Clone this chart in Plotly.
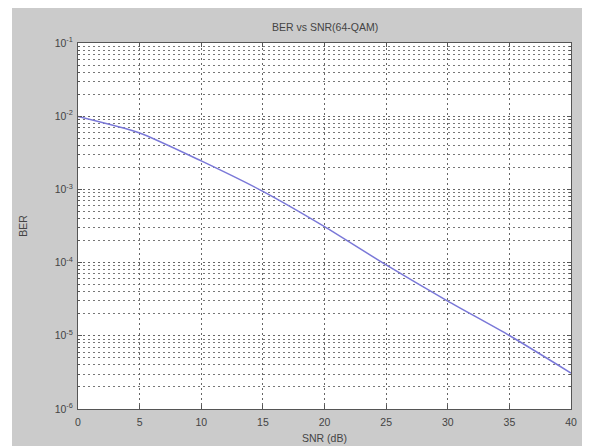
import plotly.graph_objects as go

snr_db = [0, 5, 10, 15, 20, 25, 30, 35, 40]
ber = [0.0099, 0.0059, 0.00245, 0.00094, 3.1e-4, 9.3e-5, 2.98e-5, 1.01e-5, 3.1e-6]

x_ticks = [0, 5, 10, 15, 20, 25, 30, 35, 40]
y_ticks = [1e-6, 1e-5, 1e-4, 1e-3, 1e-2, 1e-1]
y_tick_text = ["10<sup>-6</sup>", "10<sup>-5</sup>", "10<sup>-4</sup>",
               "10<sup>-3</sup>", "10<sup>-2</sup>", "10<sup>-1</sup>"]

W, H = 582, 438
ML, MR, MT, MB = 70, 19, 35, 37
PW, PH = W - ML - MR, H - MT - MB

fig = go.Figure()
fig.add_trace(go.Scatter(x=snr_db, y=ber, mode="lines",
                         line=dict(color="#7a78d8", width=1.5, shape="spline", smoothing=0.6),
                         showlegend=False))

font_family = "Liberation Sans, Arial, sans-serif"
axis_font = dict(family=font_family, size=10.5, color="#444")
grid_dash = "2px,3px"

fig.update_layout(
    width=W, height=H,
    paper_bgcolor="#cbcbcb",
    plot_bgcolor="white",
    margin=dict(l=ML, r=MR, t=MT, b=MB, autoexpand=False),
    font=axis_font,
    annotations=[dict(text="BER vs SNR(64-QAM)", xref="paper", yref="paper",
                      x=0.5, y=1 + (MT - 19) / PH, xanchor="center", yanchor="middle",
                      showarrow=False, font=dict(family=font_family, size=10.5, color="#444"))],
    shapes=[
        dict(type="rect", xref="paper", yref="paper", layer="above",
             x0=-ML / PW, x1=(4 - ML) / PW, y0=-MB / PH, y1=1 + MT / PH,
             fillcolor="white", line=dict(width=0)),
    ],
)
fig.update_xaxes(
    range=[0, 40], tickvals=x_ticks, ticks="inside", ticklen=4, tickcolor="#555",
    showline=True, linecolor="#555", linewidth=1, mirror="ticks",
    showgrid=True, gridcolor="#666", gridwidth=1, griddash=grid_dash,
    zeroline=False, ticklabelstandoff=3, automargin=False,
    title=dict(text="SNR (dB)", font=axis_font, standoff=8),
    tickfont=axis_font,
)
fig.update_yaxes(
    type="log", range=[-6, -1], tickvals=y_ticks, ticktext=y_tick_text,
    ticks="inside", ticklen=4, tickcolor="#555",
    showline=True, linecolor="#555", linewidth=1, mirror="ticks",
    showgrid=True, gridcolor="#666", gridwidth=1, griddash=grid_dash,
    minor=dict(showgrid=True, gridcolor="#777", gridwidth=1, griddash=grid_dash,
               ticks="inside", ticklen=2, tickcolor="#555", dtick="D1"),
    zeroline=False, ticklabelstandoff=2, automargin=False,
    title=dict(text="BER", font=axis_font, standoff=25),
    tickfont=axis_font,
)

fig.write_html("out.html")
